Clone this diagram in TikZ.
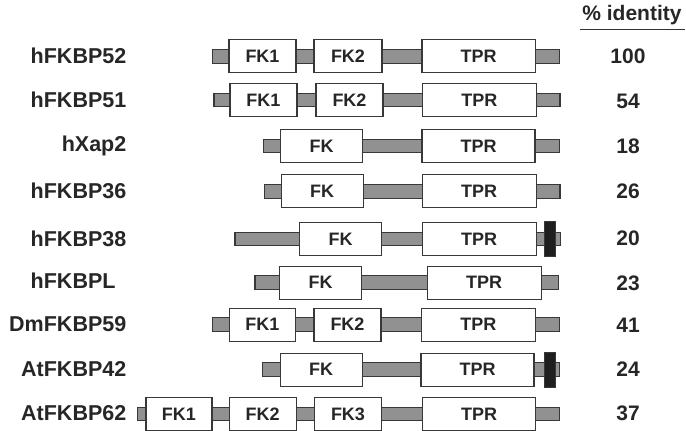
\documentclass[tikz,border=0pt]{standalone}
\usepackage{fontspec}
\setmainfont{Liberation Sans}
\begin{document}
\begin{tikzpicture}[x=1pt,y=-1pt,
  edge/.style={draw=black!78, line width=1.1pt},
  bb/.style={edge, fill=black!43},
  dom/.style={edge, fill=white, rectangle, inner sep=0pt, minimum height=33pt,
    font=\bfseries\fontsize{18}{18}\selectfont, text=black!85},
  tailbox/.style={rectangle, draw=black!78, line width=1pt, fill=black!88, inner sep=0pt,
    minimum width=11pt, minimum height=35pt},
  lab/.style={inner sep=0pt, font=\bfseries\fontsize{21.5}{21.5}\selectfont, text=black!85},
  num/.style={inner sep=0pt, font=\bfseries\fontsize{21}{21}\selectfont, text=black!85}]
\useasboundingbox (0,0) rectangle (686,431);

% header
\node[num, anchor=center] (hdr) at (632,15) {\% identity};
\draw[line width=1.4pt, black!80] (580,29.5) -- (684.5,29.5);

% ---- row 1: hFKBP52
\draw[bb] (212.7,49.6) rectangle (559.5,63.2);
\node[dom, minimum width=67pt] (r1a) at (262.5,56.4) {FK1};
\node[dom, minimum width=68pt] (r1b) at (348,56.4) {FK2};
\node[dom, minimum width=113.5pt] (r1t) at (478.7,56.4) {TPR};
\node[lab, anchor=east] (l1) at (126.5,56) {hFKBP52};
\node[num] (n1) at (628,56) {100};

% ---- row 2: hFKBP51
\draw[bb] (214,93.2) rectangle (560,106.8);
\node[dom, minimum width=67pt] (r2a) at (263.5,100) {FK1};
\node[dom, minimum width=67pt] (r2b) at (349.5,100) {FK2};
\node[dom, minimum width=113.5pt] (r2t) at (479.3,100) {TPR};
\node[lab, anchor=east] (l2) at (126.5,100) {hFKBP51};
\node[num] (n2) at (628,101) {54};

% ---- row 3: hXap2
\draw[bb] (263.3,139.2) rectangle (559.3,152.8);
\node[dom, minimum width=82pt] (r3a) at (321.7,146) {FK};
\node[dom, minimum width=113pt] (r3t) at (478.5,146) {TPR};
\node[lab, anchor=east] (l3) at (126.5,146) {hXap2};
\node[num] (n3) at (628,146) {18};

% ---- row 4: hFKBP36
\draw[bb] (264.3,184.5) rectangle (560,198.1);
\node[dom, minimum width=82.3pt] (r4a) at (322.2,191.3) {FK};
\node[dom, minimum width=113.7pt] (r4t) at (479.2,191.3) {TPR};
\node[lab, anchor=east] (l4) at (126.5,191.3) {hFKBP36};
\node[num] (n4) at (628,191) {26};

% ---- row 5: hFKBP38
\draw[bb] (235,232.2) rectangle (560.7,245.8);
\node[dom, minimum width=82.4pt] (r5a) at (340.5,239) {FK};
\node[dom, minimum width=113.7pt] (r5t) at (479.2,239) {TPR};
\node[tailbox] (r5c) at (549.7,239.2) {};
\node[lab, anchor=east] (l5) at (126.5,238.5) {hFKBP38};
\node[num] (n5) at (628,238.5) {20};

% ---- row 6: hFKBPL
\draw[bb] (255,275.9) rectangle (558.3,289.5);
\node[dom, minimum width=82.4pt] (r6a) at (320.5,282.7) {FK};
\node[dom, minimum width=113.7pt] (r6t) at (484.2,282.7) {TPR};
\node[lab, anchor=west] (l6) at (l1.west |- 0,281) {hFKBPL};
\node[num] (n6) at (628,283) {23};

% ---- row 7: DmFKBP59
\draw[bb] (212.7,317.9) rectangle (559.3,331.5);
\node[dom, minimum width=66.7pt] (r7a) at (262.4,324.7) {FK1};
\node[dom, minimum width=67pt] (r7b) at (347.5,324.7) {FK2};
\node[dom, minimum width=113.3pt] (r7t) at (478.4,324.7) {TPR};
\node[lab, anchor=east] (l7) at (126.5,324.5) {DmFKBP59};
\node[num] (n7) at (628,325) {41};

% ---- row 8: AtFKBP42
\draw[bb] (262.7,362.9) rectangle (559.3,376.5);
\node[dom, minimum width=82.3pt] (r8a) at (321.2,369.7) {FK};
\node[dom, minimum width=113pt] (r8t) at (477.5,369.7) {TPR};
\node[tailbox] (r8c) at (549.7,370.3) {};
\node[lab, anchor=east] (l8) at (126.5,369.5) {AtFKBP42};
\node[num] (n8) at (628,369.5) {24};

% ---- row 9: AtFKBP62
\draw[bb] (137.3,407.2) rectangle (559.3,420.8);
\node[dom, minimum width=66pt] (r9a) at (179,414) {FK1};
\node[dom, minimum width=66.7pt] (r9b) at (262.7,414) {FK2};
\node[dom, minimum width=67.4pt] (r9c) at (348,414) {FK3};
\node[dom, minimum width=113.4pt] (r9t) at (479,414) {TPR};
\node[lab, anchor=east] (l9) at (126.5,413.5) {AtFKBP62};
\node[num] (n9) at (628,413.5) {37};
\end{tikzpicture}
\end{document}
